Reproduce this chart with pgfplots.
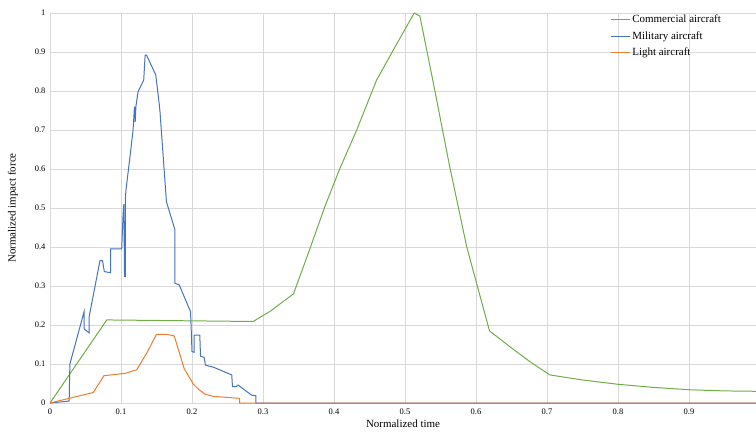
\documentclass[border=0pt]{standalone}
\usepackage{pgfplots}
\pgfplotsset{compat=1.18}
\usepackage{fontspec}
\setmainfont{Liberation Serif}
\definecolor{cgreen}{RGB}{112,173,71}
\definecolor{cblue}{RGB}{68,114,196}
\definecolor{corange}{RGB}{237,125,49}
\definecolor{cgrid}{RGB}{217,217,217}
\begin{document}
\begin{tikzpicture}
\begin{axis}[
  scale only axis,
  width=706bp, height=390bp,
  xmin=0, xmax=0.9944, ymin=0, ymax=1,
  xtick={0,0.1,...,0.91}, ytick={0,0.1,...,1.01},
  xticklabels={0,0.1,0.2,0.3,0.4,0.5,0.6,0.7,0.8,0.9},
  yticklabels={0,0.1,0.2,0.3,0.4,0.5,0.6,0.7,0.8,0.9,1},
  grid=major,
  major grid style={cgrid, line width=0.6pt},
  axis line style={draw=none},
  major tick length=0pt,
  tick label style={font=\fontsize{8.5}{10}\selectfont},
  xticklabel style={yshift=-2bp},
  yticklabel style={xshift=-1bp},
  xlabel={Normalized time},
  ylabel={Normalized impact force},
  label style={font=\fontsize{11}{13}\selectfont},
  xlabel style={yshift=1bp},
  ylabel style={yshift=10bp},
  legend style={draw=none, fill=none, at={(0.79,1.005)}, anchor=north west,
    font=\fontsize{11}{13}\selectfont, row sep=3bp,
    legend cell align=left},
  legend image code/.code={\draw[#1, line width=1pt] (0cm,0cm) -- (0.65cm,0cm);},
  clip=true,
]
\addplot[cgreen, line width=1pt] coordinates {
(0,0) (0.080,0.213) (0.286,0.209) (0.310,0.235) (0.343,0.280)
(0.365,0.390) (0.387,0.503) (0.408,0.600) (0.432,0.700) (0.460,0.828)
(0.4835,0.905) (0.513,1.000) (0.521,0.992) (0.540,0.820) (0.563,0.606)
(0.587,0.400) (0.619,0.185) (0.648,0.144) (0.676,0.106) (0.704,0.072)
(0.750,0.059) (0.800,0.048) (0.850,0.040) (0.900,0.034)
(0.950,0.031) (0.995,0.030)
};
\addlegendentry{Commercial aircraft}
\addplot[cblue, line width=1pt] coordinates {
(0,0) (0.027,0.005) (0.028,0.100) (0.048,0.234) (0.048,0.190)
(0.055,0.180) (0.055,0.220) (0.0704,0.365) (0.074,0.365) (0.0765,0.337)
(0.0854,0.334) (0.0854,0.395) (0.101,0.395) (0.103,0.486) (0.104,0.510)
(0.105,0.324) (0.106,0.324) (0.106,0.520) (0.107,0.546) (0.1127,0.632)
(0.117,0.700) (0.119,0.760) (0.120,0.720) (0.121,0.760) (0.124,0.798)
(0.132,0.828) (0.134,0.892) (0.136,0.892) (0.149,0.841) (0.154,0.764)
(0.155,0.745) (0.164,0.516) (0.176,0.444) (0.176,0.307) (0.182,0.303)
(0.198,0.234) (0.200,0.132) (0.203,0.130) (0.203,0.174) (0.211,0.174)
(0.212,0.120) (0.217,0.117) (0.219,0.097) (0.230,0.092) (0.256,0.072)
(0.257,0.042) (0.262,0.042) (0.265,0.046) (0.284,0.020) (0.290,0.019)
(0.290,0) (0.995,0)
};
\addlegendentry{Military aircraft}
\addplot[corange, line width=1pt] coordinates {
(0,0) (0.061,0.027) (0.076,0.070) (0.106,0.076) (0.122,0.085)
(0.136,0.127) (0.150,0.176) (0.164,0.176) (0.175,0.172) (0.182,0.130)
(0.189,0.088) (0.202,0.048) (0.210,0.034) (0.218,0.023) (0.230,0.017)
(0.267,0.012) (0.267,0) (0.995,0)
};
\addlegendentry{Light aircraft}
\end{axis}
\pgfresetboundingbox
\path ([xshift=-50bp,yshift=-33bp]current axis.south west) rectangle ([yshift=13bp]current axis.north east);
\end{tikzpicture}
\end{document}
